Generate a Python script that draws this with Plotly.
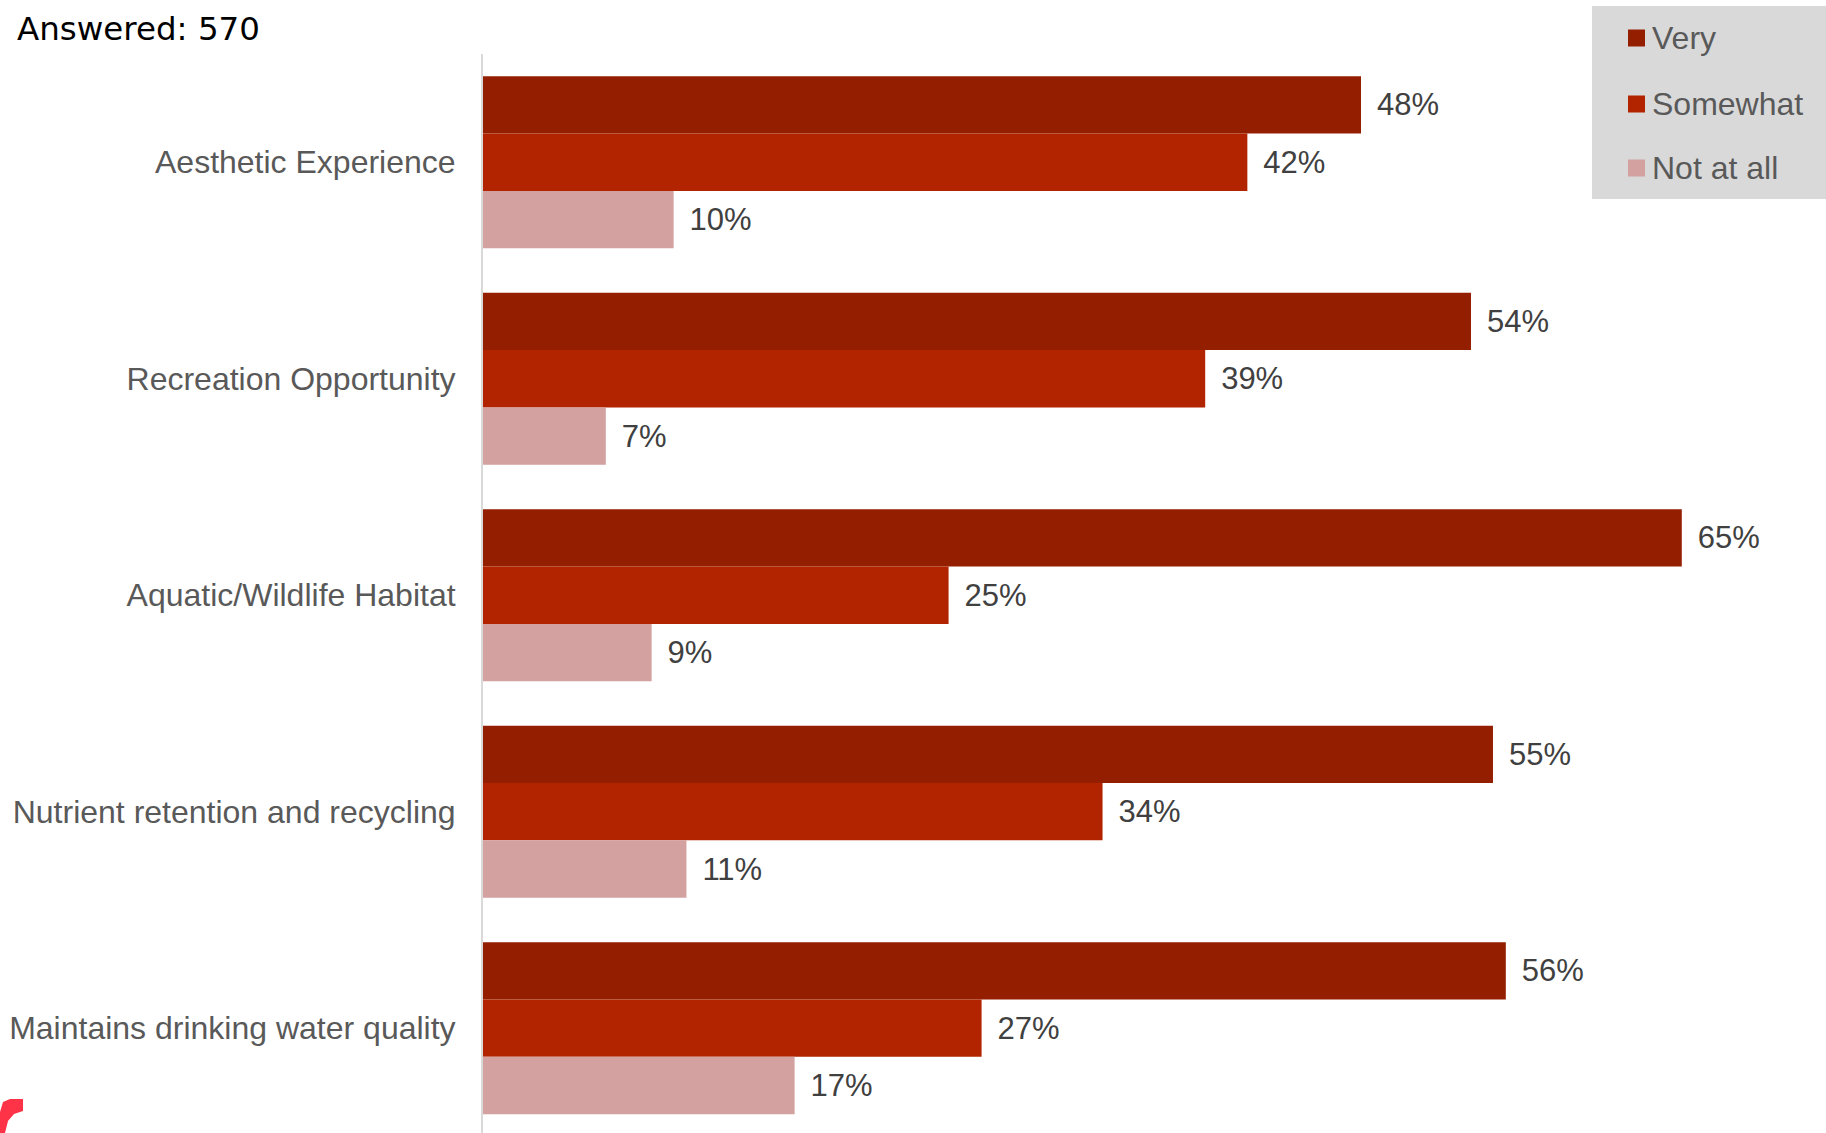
import plotly.graph_objects as go

categories = [
    "Aesthetic Experience",
    "Recreation Opportunity",
    "Aquatic/Wildlife Habitat",
    "Nutrient retention and recycling",
    "Maintains drinking water quality",
]
# bar lengths (labels show the rounded values)
very = [47.9, 53.9, 65.4, 55.1, 55.8]
somewhat = [41.7, 39.4, 25.4, 33.8, 27.2]
not_at_all = [10.4, 6.7, 9.2, 11.1, 17.0]
series_names = ["Very", "Somewhat", "Not at all"]
series_colors = ["#941E00", "#B22400", "#D3A1A0"]
title_text = "Answered: 570"

W, H = 1826, 1133
ML, MR, MT, MB = 483, 0, 54, 0
PW, PH = W - ML - MR, H - MT - MB
PX_PER_PCT = 18.33


def px2x(px):
    return (px - ML) / PW


def px2y(py):
    return (H - MB - py) / PH


fig = go.Figure()
for name, vals, col in zip(series_names, [very, somewhat, not_at_all], series_colors):
    fig.add_trace(go.Bar(
        y=categories, x=vals, name=name, orientation="h",
        marker=dict(color=col, line=dict(width=0)),
        texttemplate="\u2004\u200a%{x:.0f}%",
        textposition="outside", constraintext="none", cliponaxis=False,
        textfont=dict(family="Liberation Sans, Arial, sans-serif", size=31, color="#404040"),
        showlegend=False,
    ))

shapes = []
annotations = []

# custom legend
shapes.append(dict(type="rect", xref="paper", yref="paper",
                   x0=px2x(1592), x1=px2x(1830), y0=px2y(199), y1=px2y(6),
                   fillcolor="#D9D9D9", line=dict(width=0), layer="above"))
leg_y = [38, 104, 168]
for name, col, cy in zip(series_names, series_colors, leg_y):
    shapes.append(dict(type="rect", xref="paper", yref="paper",
                       x0=px2x(1628), x1=px2x(1645), y0=px2y(cy + 8.5), y1=px2y(cy - 8.5),
                       fillcolor=col, line=dict(width=0), layer="above"))
    annotations.append(dict(text=name, xref="paper", yref="paper", x=px2x(1650), y=px2y(cy),
                            xanchor="left", yanchor="middle", showarrow=False,
                            font=dict(family="Liberation Sans, Arial, sans-serif", size=32, color="#595959")))

# title
annotations.append(dict(text=title_text, xref="paper", yref="paper", x=px2x(15), y=px2y(29),
                        xanchor="left", yanchor="middle", showarrow=False,
                        font=dict(family="DejaVu Sans", size=32.5, color="#000000")))

# red corner mark
pts = [(0, 1133), (0, 1112), (3, 1102), (10, 1099), (23, 1099), (23, 1111), (14, 1114), (8, 1121), (5, 1133)]
path = "M " + " L ".join(f"{px2x(a):.5f},{px2y(b):.5f}" for a, b in pts) + " Z"
shapes.append(dict(type="path", xref="paper", yref="paper", path=path,
                   fillcolor="#FF3347", line=dict(width=0), layer="above"))

fig.update_layout(
    width=W, height=H,
    margin=dict(l=ML, r=MR, t=MT, b=MB, pad=0),
    paper_bgcolor="white", plot_bgcolor="white",
    barmode="group", bargap=0.206, bargroupgap=0,
    shapes=shapes, annotations=annotations,
    xaxis=dict(range=[0, PW / PX_PER_PCT], showgrid=False, zeroline=False, showticklabels=False,
               ticks="", showline=False),
    yaxis=dict(range=[4.484, -0.5], showgrid=False, zeroline=False, ticks="",
               showline=True, linecolor="#D9D9D9", linewidth=2,
               ticklabelstandoff=19,
               tickfont=dict(family="Liberation Sans, Arial, sans-serif", size=32, color="#595959")),
)

fig.write_html("out.html", config={"displayModeBar": False},
               post_script="document.body.style.margin='0';")
